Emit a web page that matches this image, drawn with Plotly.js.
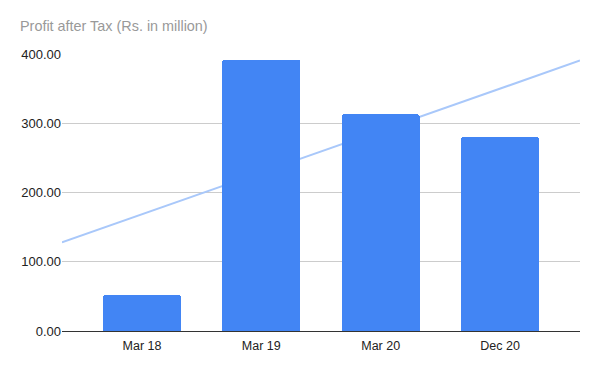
<!DOCTYPE html>
<html>
<head>
<meta charset="utf-8">
<script src="https://cdn.plot.ly/plotly-3.0.1.min.js"></script>
<style>html,body{margin:0;padding:0;background:#fff;}#chart{width:600px;height:371px;}</style>
</head>
<body>
<div id="chart"></div>
<script>
var categories = ["Mar 18", "Mar 19", "Mar 20", "Dec 20"];
var profit = [52, 392, 313, 280];
var yTicks = [0, 100, 200, 300, 400];

var idx = categories.map(function (_, i) { return i; });
// linear trendline (least squares) over category index
var n = profit.length;
var mx = idx.reduce(function (a, b) { return a + b; }, 0) / n;
var my = profit.reduce(function (a, b) { return a + b; }, 0) / n;
var sxy = 0, sxx = 0;
for (var i = 0; i < n; i++) { sxy += (idx[i] - mx) * (profit[i] - my); sxx += (idx[i] - mx) * (idx[i] - mx); }
var slope = sxy / sxx, icpt = my - slope * mx;
var xr = [-0.67, n - 1 + 0.67];
var trendX = xr, trendY = xr.map(function (x) { return icpt + slope * x; });

var trend = {
  x: trendX, y: trendY, type: 'scatter', mode: 'lines', xaxis: 'x', yaxis: 'y',
  line: { color: '#a9c8fa', width: 2 }, hoverinfo: 'skip', showlegend: false
};
var bars = {
  x: idx, y: profit, type: 'bar', xaxis: 'x2', yaxis: 'y',
  marker: { color: '#4285f4', cornerradius: 3 }, width: 0.655, showlegend: false
};

var layout = {
  width: 600, height: 371,
  margin: { l: 62, r: 20, t: 54, b: 40 },
  paper_bgcolor: '#fff', plot_bgcolor: '#fff',
  font: { family: 'Liberation Sans, Arial, sans-serif', size: 12.5, color: '#222' },
  title: { text: 'Profit after Tax (Rs. in million)', x: 20 / 600, xref: 'container', xanchor: 'left',
           y: 1 - 26 / 371, yref: 'container', yanchor: 'middle',
           font: { size: 14.4, color: '#999' } },
  xaxis: {
    range: xr, tickvals: idx, ticktext: categories, showgrid: false, zeroline: false,
    showline: true, linecolor: '#333', linewidth: 1, ticks: '', ticklen: 0, ticklabelstandoff: 3
  },
  xaxis2: { overlaying: 'x', range: xr, visible: false, showgrid: false, zeroline: false },
  yaxis: {
    range: [0, 400], tickvals: yTicks, ticktext: yTicks.map(function (v) { return v.toFixed(2); }),
    showgrid: true, gridcolor: '#cccccc', gridwidth: 1, zeroline: false, ticks: '', ticklen: 0,
    tickfont: { size: 13 }
  },
  bargap: 0
};
Plotly.newPlot('chart', [trend, bars], layout, { displayModeBar: false, staticPlot: true });
</script>
</body>
</html>
